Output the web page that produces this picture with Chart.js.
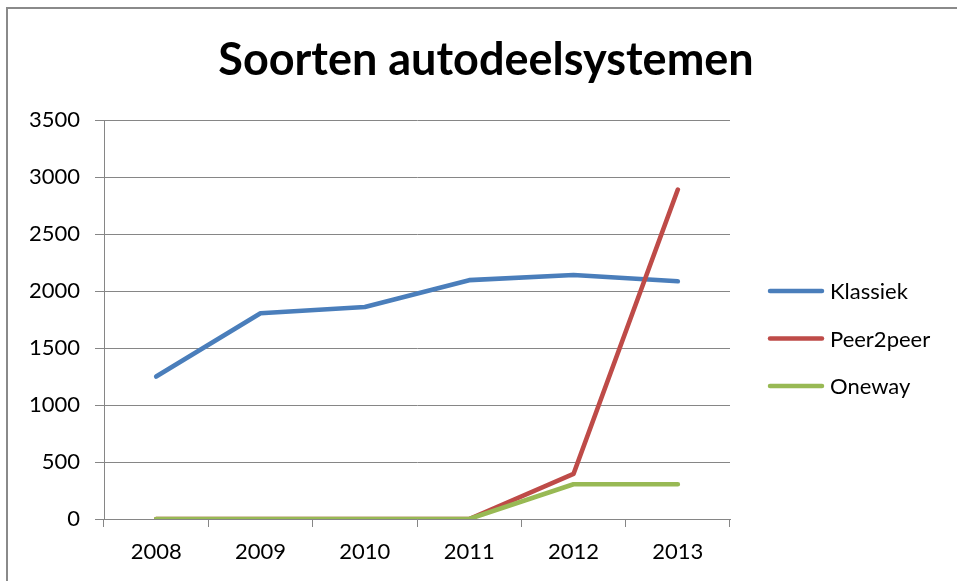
<!DOCTYPE html>
<html>
<head>
<meta charset="utf-8">
<script src="https://cdn.jsdelivr.net/npm/chart.js@4/dist/chart.umd.min.js"></script>
<style>
  html, body { margin: 0; padding: 0; background: #fff; width: 957px; height: 581px; overflow: hidden; }
  #frame { position: absolute; left: 6px; top: 7px; width: 2000px; height: 2000px; border: 2px solid #8a8a8a; box-sizing: border-box; }
  #c { position: absolute; left: 0; top: 0; }
</style>
</head>
<body>
<div id="frame"></div>
<canvas id="c" width="957" height="581"></canvas>
<script>
const categories = ['2008', '2009', '2010', '2011', '2012', '2013'];
const seriesNames = ['Klassiek', 'Peer2peer', 'Oneway'];
const klassiek = [1250, 1805, 1860, 2095, 2140, 2085];
const peer2peer = [0, 0, 0, 0, 395, 2890];
const oneway = [0, 0, 0, 0, 305, 305];
const yTicks = { min: 0, max: 3500, step: 500 };
const titleText = 'Soorten autodeelsystemen';

const FONT = 'Lato, "Liberation Sans", sans-serif';
const colors = ['#4a7ebb', '#be4b48', '#98b954'];

const sideLegend = {
  id: 'sideLegend',
  afterDraw(chart, args, opts) {
    const ctx = chart.ctx;
    ctx.save();
    chart.data.datasets.forEach((ds, i) => {
      const y = opts.firstY + i * opts.rowGap;
      ctx.strokeStyle = ds.borderColor;
      ctx.lineWidth = 4.5;
      ctx.lineCap = 'round';
      ctx.beginPath();
      ctx.moveTo(opts.x, y);
      ctx.lineTo(opts.x + opts.lineLen, y);
      ctx.stroke();
      ctx.fillStyle = '#000';
      ctx.font = '22px ' + FONT;
      ctx.textBaseline = 'middle';
      ctx.textAlign = 'left';
      ctx.fillText(ds.label, opts.x + opts.lineLen + 8, y + 1);
    });
    ctx.restore();
  }
};

const mkDs = (label, data, color, order) => ({
  label, data, yAxisID: 'y', order,
  borderColor: color, backgroundColor: color,
  borderWidth: 4.6, pointRadius: 0, pointHoverRadius: 0,
  tension: 0, borderCapStyle: 'round', borderJoinStyle: 'round', fill: false
});

new Chart(document.getElementById('c'), {
  type: 'line',
  data: {
    labels: categories,
    datasets: [
      mkDs(seriesNames[0], klassiek, colors[0], 3),
      mkDs(seriesNames[1], peer2peer, colors[1], 2),
      mkDs(seriesNames[2], oneway, colors[2], 1)
    ]
  },
  options: {
    responsive: false,
    animation: false,
    layout: { padding: { top: 0, left: 15, right: 0, bottom: 0 } },
    plugins: {
      legend: { display: false },
      tooltip: { enabled: false },
      title: {
        display: true,
        text: titleText,
        color: '#000',
        font: { family: FONT, size: 45, weight: 'bold' },
        padding: { top: 33, bottom: 33 }
      },
      sideLegend: { x: 770, lineLen: 52, firstY: 291, rowGap: 47.5 }
    },
    scales: {
      x: {
        type: 'category',
        offset: true,
        grid: { drawOnChartArea: false, drawTicks: true, tickLength: 8, color: '#868686', offset: true },
        border: { color: '#868686', width: 1 },
        ticks: { color: '#000', font: { family: FONT, size: 22 }, padding: 12, maxRotation: 0 },
        afterFit: (s) => { s.height = 62; }
      },
      y: {
        position: 'left',
        min: yTicks.min, max: yTicks.max,
        grid: { color: '#868686', tickLength: 9, drawTicks: true },
        border: { color: '#868686', width: 1 },
        ticks: { stepSize: yTicks.step, color: '#000', font: { family: FONT, size: 22 }, padding: 15,
                 callback: (v) => String(v) },
        afterFit: (s) => { s.width = 89; }
      },
      legendSpace: {
        type: 'linear',
        position: 'right',
        display: true,
        grid: { display: false, drawOnChartArea: false },
        border: { display: false },
        ticks: { display: false },
        afterFit: (s) => { s.width = 227; }
      }
    }
  },
  plugins: [sideLegend]
});
</script>
</body>
</html>
